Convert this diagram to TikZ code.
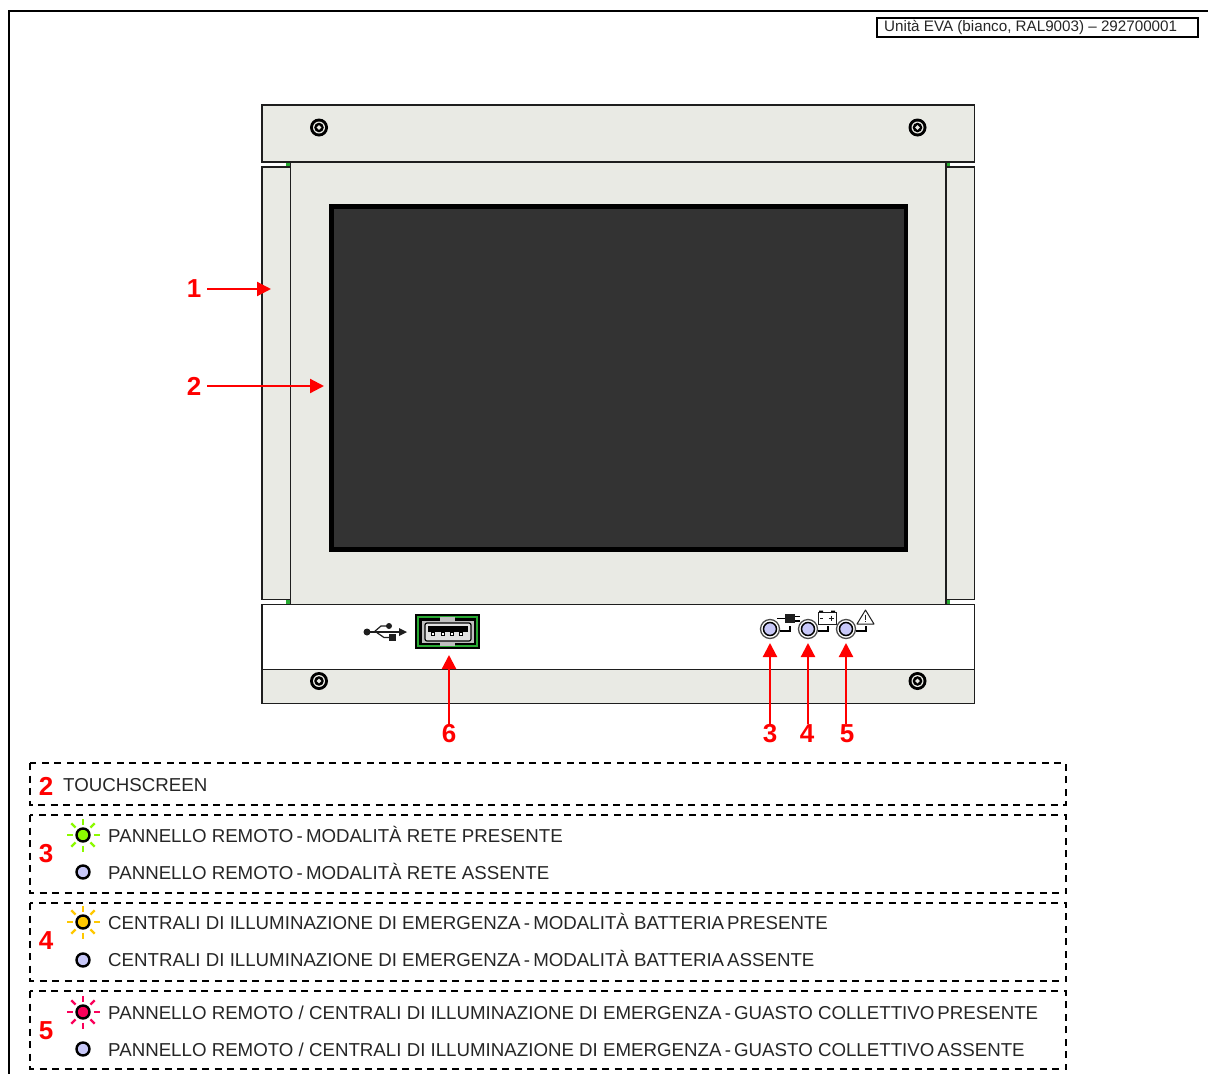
\documentclass[tikz,border=0pt]{standalone}
\usepackage{fontspec}
\setmainfont{Liberation Sans}
\usepackage{tikz}
\usetikzlibrary{arrows.meta}
\definecolor{panelgray}{RGB}{233,234,228}
\definecolor{screengray}{RGB}{51,51,51}
\definecolor{ledoff}{RGB}{200,200,248}
\definecolor{ledgreen}{RGB}{140,250,0}
\definecolor{ledyellow}{RGB}{255,200,0}
\definecolor{ledred}{RGB}{250,0,90}
\definecolor{pcbgreen}{RGB}{40,170,50}
\definecolor{edge}{RGB}{30,30,30}
\newcommand{\sepdash}{\hspace{3.2pt}-\hspace{3.2pt}}
\tikzset{
  panel/.style={draw=edge,fill=panelgray,line width=1.2pt},
  numlabel/.style={text=red,font=\fontsize{26}{26}\selectfont\bfseries,inner ysep=1pt,inner xsep=6pt},
  legendtext/.style={text=black!85,font=\fontsize{18.7}{20}\selectfont,anchor=base west,inner sep=0pt},
  legendbox/.style={draw=black,line width=1.8pt,dash pattern=on 7pt off 5.5pt},
  redarrow/.style={draw=red,line width=2.2pt,-{Triangle[length=14pt,width=14pt]}},
}
\begin{document}
\begin{tikzpicture}[x=1pt,y=-1pt]
  \useasboundingbox (0,0) rectangle (1208,1074);
  % outer frame
  \draw[line width=2.2pt] (1208,11) -- (9,11) -- (9,1074);
  \node[draw=black,line width=1.1pt,minimum width=321pt,minimum height=19pt,inner sep=0pt] (title) at (1037.5,27.5) {};
  \node[anchor=west,inner sep=0pt,text=black!85,font=\fontsize{15.2}{16}\selectfont] (titletext) at (884,27.5) {Unità EVA (bianco, RAL9003) -- 292700001};
  % unit
  \fill[pcbgreen] (286,160) rectangle (290,169);
  \fill[pcbgreen] (946,160) rectangle (950,169);
  \fill[pcbgreen] (286,598) rectangle (290,606);
  \fill[pcbgreen] (946,598) rectangle (950,606);
  \draw[panel] (262,167) rectangle (290.5,599.5);
  \draw[panel] (946,167) rectangle (974.5,599.5);
  \draw[panel] (290.5,162) rectangle (946,604.5);
  \draw[panel] (262,105) rectangle (974.5,162);
  \draw[panel,fill=white] (262,604.5) rectangle (974.5,669.5);
  \draw[panel] (262,669.5) rectangle (974.5,703.5);
  \fill[black] (329,204) rectangle (908,552);
  \fill[screengray] (334,209) rectangle (904,547);
  % screws
  \foreach \sx/\sy in {319/127.5,917.5/127.5,319/681,917.5/681} {
    \fill[black] (\sx,\sy) circle (9);
    \fill[panelgray] (\sx,\sy) circle (6);
    \fill[black] (\sx,\sy) circle (4.8);
    \fill[panelgray] (\sx-2.4,\sy) -- (\sx,\sy-2.4) -- (\sx+2.4,\sy) -- (\sx,\sy+2.4) -- cycle;
  }
  % usb symbol
  \fill[edge] (367,632) circle (3.5);
  \fill[edge] (389,626) circle (3);
  \fill[edge] (389,634) rectangle (396,641);
  \draw[edge,line width=1.2pt] (367,632) -- (400,632);
  \draw[edge,line width=1.2pt] (374,632) -- (381,626) -- (389,626);
  \draw[edge,line width=1.2pt] (376,632) -- (384,637.5) -- (390,637.5);
  \fill[edge] (399,628) -- (407,632) -- (399,636) -- cycle;
  % usb port
  \fill[black] (415,614) rectangle (480,649);
  \fill[pcbgreen] (417,616) rectangle (478,647);
  \fill[black] (419,618) rectangle (476,645);
  \draw[black,fill=black!25,line width=1pt] (421,620) rectangle (474,643);
  \fill[black!25] (440,617) rectangle (455,646);
  \draw[black,fill=black!12,line width=1.2pt,rounded corners=2pt] (425,623) rectangle (471,641);
  \fill[black] (428,626) rectangle (468,632);
  \foreach \px in {433,443,452,461} \draw[black,fill=white,line width=.7pt] (\px-1.5,632) rectangle (\px+1.5,635);
  % panel leds
  \foreach \lx in {770,808,846} {
    \draw[black!70,fill=white,line width=1.3pt] (\lx,629) circle (9.5);
    \draw[black,fill=ledoff,line width=1.5pt] (\lx,629) circle (6.5);
    \draw[black,line width=1.2pt] (\lx+10,631) -- (\lx+20,631) -- (\lx+20,626);
  }
  % plug
  \draw[black,line width=1.2pt] (777,618.5) -- (786,618.5);
  \fill[edge] (785,614) rectangle (795,623);
  \draw[black,line width=1.2pt] (795,616.5) -- (800,616.5) (795,621) -- (800,621);
  % battery
  \draw[edge,fill=white,line width=1pt] (818,612) rectangle (836,624.5);
  \fill[black] (819,610.5) rectangle (823,612) (831,610.5) rectangle (835,612);
  \draw[edge,line width=.8pt] (820,618) -- (823,618) (829,618) -- (834,618) (831.5,615.5) -- (831.5,620.5);
  % warning triangle
  \draw[edge,fill=white,line width=1pt,line join=round] (865.5,610) -- (874,624) -- (857,624) -- cycle;
  \draw[edge,line width=.9pt] (865.5,614.5) -- (865.5,619.5) (865.5,621) -- (865.5,622);
  % callouts
  \coordinate (flap) at (271,289);
  \coordinate (screen) at (324,386);
  \coordinate (ledrete) at (770,643);
  \coordinate (ledbatt) at (808,643);
  \coordinate (ledguasto) at (846,643);
  \coordinate (usbport) at (449,655);
  \node[numlabel] (n1) at (194,289) {1};
  \node[numlabel] (n2) at (194,386) {2};
  \node[numlabel] (n3) at (770,734) {3};
  \node[numlabel] (n4) at (807,734) {4};
  \node[numlabel] (n5) at (847,734) {5};
  \node[numlabel] (n6) at (449,734) {6};
  \draw[redarrow] (n1) -- (flap);
  \draw[redarrow] (n2) -- (screen);
  \draw[redarrow] (n3) -- (ledrete);
  \draw[redarrow] (n4.north -| ledbatt) -- (ledbatt);
  \draw[redarrow] (n5.north -| ledguasto) -- (ledguasto);
  \draw[redarrow] (n6) -- (usbport);
  % legend
  \draw[legendbox] (30,763) rectangle (1066,805);
  \draw[legendbox] (30,815) rectangle (1066,893);
  \draw[legendbox] (30,903) rectangle (1066,981);
  \draw[legendbox] (30,991) rectangle (1066,1069);
  \node[numlabel] (k2) at (46,786) {2};
  \node[numlabel] (k3) at (46,854) {3};
  \node[numlabel] (k4) at (46,941) {4};
  \node[numlabel] (k5) at (46,1031) {5};
  \node[legendtext] (t2) at (63,791.5) {TOUCHSCREEN};
  \node[legendtext] (t3a) at (108,842) {PANNELLO REMOTO\sepdash MODALITÀ RETE PRESENTE};
  \node[legendtext] (t3b) at (108,879) {PANNELLO REMOTO\sepdash MODALITÀ RETE ASSENTE};
  \node[legendtext] (t4a) at (108,929) {CENTRALI DI ILLUMINAZIONE DI EMERGENZA\sepdash MODALITÀ BATTERIA\hspace{3pt}PRESENTE};
  \node[legendtext] (t4b) at (108,966) {CENTRALI DI ILLUMINAZIONE DI EMERGENZA\sepdash MODALITÀ BATTERIA\hspace{3pt}ASSENTE};
  \node[legendtext] (t5a) at (108,1019) {PANNELLO REMOTO / CENTRALI DI ILLUMINAZIONE DI EMERGENZA\sepdash GUASTO COLLETTIVO\hspace{3pt}PRESENTE};
  \node[legendtext] (t5b) at (108,1056) {PANNELLO REMOTO / CENTRALI DI ILLUMINAZIONE DI EMERGENZA\sepdash GUASTO COLLETTIVO\hspace{3pt}ASSENTE};
  \foreach \ly/\lc in {835/ledgreen,922/ledyellow,1012/ledred} {
    \foreach \a in {0,45,...,315}
      \draw[\lc,line width=2.4pt] (83,\ly) ++(\a:10.5) -- ++(\a:6);
    \draw[black,fill=\lc,line width=2.4pt] (83,\ly) circle (6.5);
  }
  \foreach \ly in {872,960,1049}
    \draw[black,fill=ledoff,line width=2.4pt] (83,\ly) circle (6.5);
\end{tikzpicture}
\end{document}
